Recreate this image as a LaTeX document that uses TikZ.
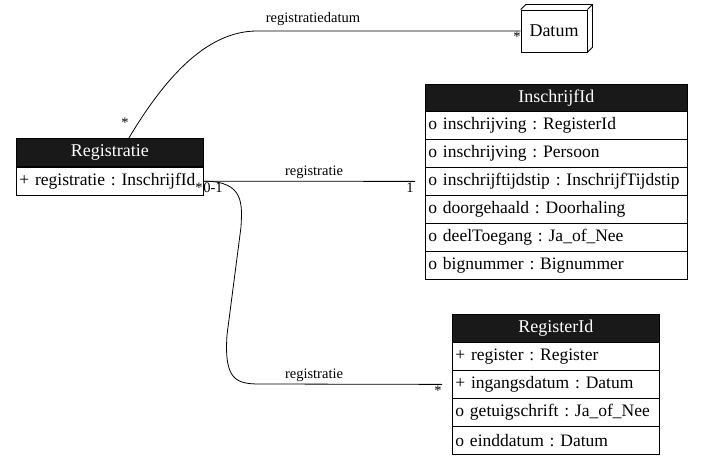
\documentclass[tikz,border=0pt]{standalone}
\usepackage{fontspec}
\setmainfont{Liberation Serif}
\usetikzlibrary{positioning}
\frenchspacing

\tikzset{
	hdr/.style={draw, line width=0.8pt, fill=black!90, text=white, minimum height=28pt, inner sep=0pt, anchor=north west, font=\fontsize{18}{20}\selectfont},
	attr/.style={draw, line width=0.8pt, fill=white, minimum height=28pt, inner xsep=3pt, inner ysep=0pt, align=left, anchor=north west, font=\fontsize{17.5}{20}\selectfont},
	lbl/.style={inner sep=0pt, font=\fontsize{14.5}{16}\selectfont},
	assoc/.style={draw, line width=0.8pt}
}

\begin{document}
\begin{tikzpicture}[x=1pt,y=-1pt]
	\useasboundingbox (0,0) rectangle (707,465);
	% classes
	\node[hdr, minimum width=187pt] (reg) at (16,138) {Registratie};
	\node[attr, text width=181pt, below=0pt of reg] (reg1) {+ registratie : InschrijfId};

	\node[hdr, minimum width=262pt] (ins) at (425,84) {InschrijfId};
	\foreach \t [count=\i] in {o inschrijving : RegisterId, o inschrijving : Persoon, o inschrijftijdstip : InschrijfTijdstip, o doorgehaald : Doorhaling, o deelToegang : Ja\_of\_Nee, o bignummer : Bignummer}
	{ \node[attr, text width=256pt] (ins\i) at (425,83+28*\i) {\t};
	}

	\node[hdr, minimum width=207pt] (rid) at (452,314) {RegisterId};
	\foreach \t [count=\i] in {+ register : Register, + ingangsdatum : Datum, o getuigschrift : Ja\_of\_Nee, o einddatum : Datum}
	{ \node[attr, text width=201pt] (rid\i) at (452,314+28*\i) {\t};
	}

	% datatype as box3d
	\node[draw, line width=0.8pt, minimum width=66pt, minimum height=42pt, font=\fontsize{18}{20}\selectfont] (datum) at (554,31) {Datum};
	\draw[line width=0.8pt] (datum.north west) -- ++(5,-5) -- ([xshift=5pt,yshift=5pt]datum.north east) -- ([xshift=5pt,yshift=5pt]datum.south east) -- (datum.south east);
	\draw[line width=0.8pt] (datum.north east) -- ++(5,-5);

	% associations
	\draw[assoc] ([xshift=19pt]reg.north) .. controls (163,81) and (205,31) .. (257,31) -- (datum.west);
	\draw[assoc] (reg1.east) -- ([xshift=-10pt]ins3.west);
	\draw[assoc] (reg1.east) .. controls (245,181) and (242,205) .. (241,227) -- (227,335) .. controls (224,380) and (236,384) .. (260,384) -- ([xshift=-10pt]rid2.west);

	% labels and multiplicities
	\node[lbl] (l1) at (313,19) {registratiedatum};
	\node[lbl] (l2) at (314,172) {registratie};
	\node[lbl] (l3) at (314,375) {registratie};
	\node[lbl] (m1) at (125,123) {*};
	\node[lbl] (m2) at (517,37) {*};
	\node[lbl] (m3) at (199,188) {*};
	\node[lbl] (m4) at (213,188) {0-1};
	\node[lbl] (m5) at (410,188) {1};
	\node[lbl] (m6) at (438,391) {*};
\end{tikzpicture}
\end{document}
